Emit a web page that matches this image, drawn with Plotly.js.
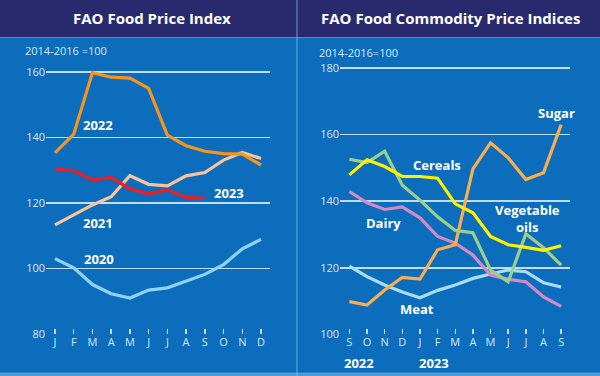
<!DOCTYPE html>
<html>
<head>
<meta charset="utf-8">
<script src="https://cdn.plot.ly/plotly-3.0.1.min.js"></script>
<style>
  html, body { margin: 0; padding: 0; background: #0b6dbb; }
  #chart { width: 600px; height: 376px; }
</style>
</head>
<body>
<div id="chart"></div>
<script>
// ---- Left panel: FAO Food Price Index (2014-2016 = 100)
const monthsLeft = ["J", "F", "M", "A", "M", "J", "J", "A", "S", "O", "N", "D"];
const fpi2020 = [103.0, 100.2, 95.1, 92.3, 91.0, 93.4, 94.1, 96.1, 98.2, 101.2, 106.0, 108.9];
const fpi2021 = [113.3, 116.4, 119.4, 121.9, 128.3, 125.7, 125.2, 128.3, 129.3, 133.1, 135.4, 133.6];
const fpi2022 = [135.3, 141.0, 159.8, 158.4, 158.1, 155.0, 140.7, 137.5, 135.8, 135.1, 134.9, 131.6];
const fpi2023 = [130.3, 129.9, 127.0, 127.8, 124.3, 122.8, 124.0, 121.7, 121.4];
const leftYTicks = [80, 100, 120, 140, 160];

// ---- Right panel: FAO Food Commodity Price Indices (Sep 2022 - Sep 2023)
const monthsRight = ["S", "O", "N", "D", "J", "F", "M", "A", "M", "J", "J", "A", "S"];
const sugar   = [109.8, 108.8, 113.3, 117.1, 116.6, 125.4, 126.9, 149.7, 157.5, 153.0, 146.5, 148.5, 163.0];
const cereals = [147.9, 152.4, 150.4, 147.4, 147.4, 146.9, 139.2, 136.5, 129.4, 126.9, 126.1, 125.2, 126.6];
const vegOils = [152.6, 151.6, 155.0, 144.8, 140.3, 135.3, 131.2, 130.5, 119.3, 115.8, 130.2, 126.0, 120.8];
const dairy   = [142.9, 139.5, 137.5, 138.3, 135.0, 129.4, 127.4, 123.8, 117.8, 116.5, 115.8, 111.2, 108.4];
const meat    = [120.5, 117.3, 114.8, 112.7, 111.0, 113.2, 114.8, 116.8, 118.1, 119.3, 118.8, 115.5, 114.2];
const rightYTicks = [100, 120, 140, 160, 180];

const W = 600, H = 376;
const px = x => x / W;
const py = y => 1 - y / H;

const FONT = "Open Sans, Noto Sans, sans-serif";
const NAVY = "#29296e";
const BLUE = "#0b6dbb";
const GRID = "rgba(205,228,246,0.95)";
const TICKTXT = "#d6e8f7";

const idxL = monthsLeft.map((_, i) => i);
const idxR = monthsRight.map((_, i) => i);

function line(x, y, color, xa, ya) {
  return { x: x, y: y, type: "scatter", mode: "lines", xaxis: xa, yaxis: ya,
           line: { color: color, width: 3.2, shape: "linear" }, hoverinfo: "skip" };
}

const traces = [
  line(idxL, fpi2020, "#8fd4f6", "x", "y"),
  line(idxL, fpi2021, "#f9c39c", "x", "y"),
  line(idxL, fpi2022, "#f7941d", "x", "y"),
  line(idxL.slice(0, fpi2023.length), fpi2023, "#ee1c25", "x", "y"),
  line(idxR, meat, "#a9def2", "x2", "y2"),
  line(idxR, dairy, "#d38bc6", "x2", "y2"),
  line(idxR, sugar, "#f9ad4f", "x2", "y2"),
  line(idxR, vegOils, "#9ccf8c", "x2", "y2"),
  line(idxR, cereals, "#fff200", "x2", "y2")
];

function ann(text, x, y, opts) {
  return Object.assign({
    text: text, x: px(x), y: py(y), xref: "paper", yref: "paper",
    xanchor: "center", yanchor: "middle", showarrow: false,
    font: { family: FONT, size: 13, color: "#ffffff", weight: 700 }
  }, opts || {});
}

const annotations = [
  ann("<b>FAO Food Price Index</b>", 152, 18, { font: { family: FONT, size: 15, color: "#ffffff" } }),
  ann("<b>FAO Food Commodity Price Indices</b>", 450, 18, { font: { family: FONT, size: 15, color: "#ffffff" } }),
  ann("2014-2016 =100", 23, 51, { xanchor: "left", font: { family: FONT, size: 11, color: TICKTXT } }),
  ann("2014-2016=100", 317, 52, { xanchor: "left", font: { family: FONT, size: 11, color: TICKTXT } }),
  ann("<b>2022</b>", 98, 125),
  ann("<b>2023</b>", 229, 193),
  ann("<b>2021</b>", 98, 223),
  ann("<b>2020</b>", 99, 259),
  ann("<b>Sugar</b>", 556, 113),
  ann("<b>Cereals</b>", 437, 165),
  ann("<b>Dairy</b>", 383, 223),
  ann("<b>Vegetable<br>oils</b>", 527, 218),
  ann("<b>Meat</b>", 417, 309),
  ann("<b>2022</b>", 359, 363),
  ann("<b>2023</b>", 434, 363)
];

const shapes = [
  { type: "rect", xref: "paper", yref: "paper", x0: 0, x1: 1, y0: py(37), y1: 1,
    fillcolor: NAVY, line: { width: 0 }, layer: "below" },
  { type: "line", xref: "paper", yref: "paper", x0: 0, x1: 1, y0: py(37.5), y1: py(37.5),
    line: { color: "#3d8fd6", width: 1 } },
  { type: "line", xref: "paper", yref: "paper", x0: px(297), x1: px(297), y0: 0, y1: 1,
    line: { color: "rgba(150,195,235,0.7)", width: 1 } },
  { type: "rect", xref: "paper", yref: "paper", x0: 0, x1: 1, y0: 0, y1: py(372.5),
    fillcolor: "#4f9ad6", line: { width: 0 }, layer: "below" }
];

const axisX = {
  tickmode: "array", showgrid: false, zeroline: false, showline: false,
  ticks: "inside", ticklen: 5, tickwidth: 1.5, tickcolor: GRID,
  tickfont: { family: FONT, size: 11, color: TICKTXT }, fixedrange: true
};
const axisY = {
  tickmode: "array", showgrid: true, gridcolor: GRID, gridwidth: 1.6,
  zeroline: false, showline: false, ticks: "",
  tickfont: { family: FONT, size: 11, color: TICKTXT }, fixedrange: true
};

const layout = {
  width: W, height: H,
  margin: { l: 0, r: 0, t: 0, b: 0 },
  paper_bgcolor: BLUE, plot_bgcolor: "rgba(0,0,0,0)",
  showlegend: false,
  font: { family: FONT },
  xaxis: Object.assign({}, axisX, { domain: [px(46), px(270)], range: [-0.48, 11.48],
    tickvals: idxL, ticktext: monthsLeft, anchor: "y" }),
  yaxis: Object.assign({}, axisY, { domain: [py(334), py(55.6)], range: [80, 165],
    tickvals: leftYTicks, anchor: "x" }),
  xaxis2: Object.assign({}, axisX, { domain: [px(340), px(570)], range: [-0.53, 12.5],
    tickvals: idxR, ticktext: monthsRight, anchor: "y2" }),
  yaxis2: Object.assign({}, axisY, { domain: [py(334.3), py(63)], range: [100, 181.5],
    tickvals: rightYTicks, anchor: "x2" }),
  annotations: annotations,
  shapes: shapes
};

Plotly.newPlot("chart", traces, layout, { displayModeBar: false, staticPlot: true });
</script>
</body>
</html>
